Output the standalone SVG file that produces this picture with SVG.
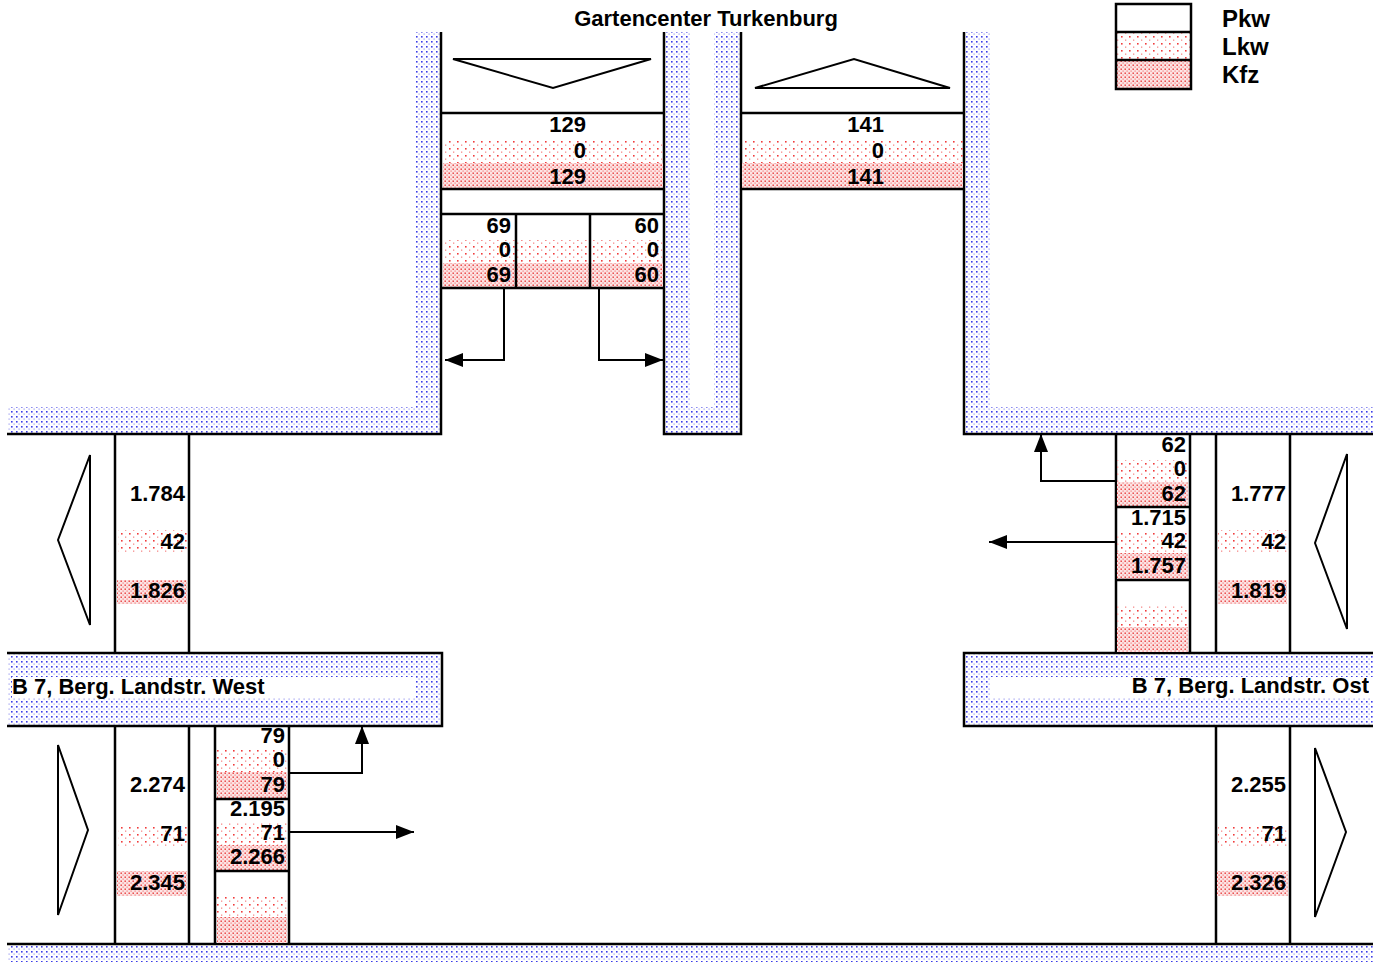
<svg xmlns="http://www.w3.org/2000/svg" width="1386" height="966" viewBox="0 0 1386 966">
<defs>
<pattern id="blue" width="5" height="5" patternUnits="userSpaceOnUse">
<rect x="1" y="1" width="1.6" height="1.6" fill="#3c3ce8"/>
<rect x="3.5" y="3.5" width="1.2" height="1.2" fill="#9a9af0"/>
</pattern>
<pattern id="lkw" width="8" height="7" patternUnits="userSpaceOnUse">
<rect x="1" y="1" width="1.6" height="1.6" fill="#f03c3c"/>
<rect x="5" y="4.5" width="1.3" height="1.3" fill="#f58a8a"/>
</pattern>
<pattern id="kfz" width="4" height="4" patternUnits="userSpaceOnUse">
<rect width="4" height="4" fill="#fce4e4"/>
<rect x="0.5" y="0.5" width="1.4" height="1.4" fill="#e83030"/>
<rect x="2.5" y="2.5" width="1.2" height="1.2" fill="#f07878"/>
</pattern>
<marker id="ah" markerUnits="userSpaceOnUse" markerWidth="19" markerHeight="15" refX="18" refY="7" orient="auto">
<path d="M0,0 L18,7 L0,14 Z" fill="#000"/>
</marker>
<clipPath id="clipW"><rect x="0" y="660" width="267" height="50"/></clipPath>
<clipPath id="clipO"><rect x="990" y="660" width="379" height="50"/></clipPath>
<style>
.ln{stroke:#000;stroke-width:2.5;fill:none}
.tri{fill:#fff;stroke:#000;stroke-width:2}
.t{font-family:"Liberation Sans",Arial,sans-serif;font-weight:bold;font-size:22px;fill:#000}
.r{text-anchor:end}
.c{text-anchor:middle}
.lg{font-size:24px}
.bl{fill:url(#blue)}
.lk{fill:url(#lkw)}
.kf{fill:url(#kfz)}
.con{stroke:#000;stroke-width:2;fill:none;marker-end:url(#ah)}
</style>
</defs>
<rect width="1386" height="966" fill="#fff"/>

<g id="sidewalks">
<path class="bl" d="M415,32 H441 V434 H8 V407 H415 Z"/>
<path class="bl" d="M664,32 H740 V434 H664 Z"/>
<rect x="691" y="32" width="23" height="375" fill="#fff"/>
<path class="bl" d="M964,32 H990 V407 H1373 V434 H964 Z"/>
<rect class="bl" x="8" y="653" width="433" height="73"/>
<rect x="12" y="677" width="403" height="21" fill="#fff"/>
<rect class="bl" x="964" y="653" width="409" height="73"/>
<rect x="990" y="677" width="383" height="21" fill="#fff"/>
<rect class="bl" x="8" y="944" width="1365" height="18"/>
<path class="ln" d="M441,32 V434 H7"/>
<path class="ln" d="M664,32 V434 H741 V32"/>
<path class="ln" d="M964,32 V434 H1373"/>
<path class="ln" d="M7,653 H442 V726 H7"/>
<path class="ln" d="M1373,653 H964 V726 H1373"/>
<path class="ln" d="M7,944 H1373"/>
</g>

<g id="lanes">
<path class="ln" d="M115,434 V653 M189,434 V653"/>
<path class="ln" d="M115,726 V944 M189,726 V944 M215,726 V944 M289,726 V944"/>
<path class="ln" d="M1116,434 V653 M1190,434 V653 M1216,434 V653 M1290,434 V653"/>
<path class="ln" d="M1216,726 V944 M1290,726 V944"/>
</g>

<g id="title"><text class="t c" x="706" y="26">Gartencenter Turkenburg</text></g>

<g id="legend">
<rect class="lk" x="1117" y="32" width="73" height="28"/>
<rect class="kf" x="1117" y="60" width="73" height="28"/>
<rect class="ln" x="1116" y="4" width="75" height="85"/>
<path class="ln" d="M1116,32 H1191 M1116,60 H1191"/>
<text class="t lg" x="1222" y="27">Pkw</text>
<text class="t lg" x="1222" y="55">Lkw</text>
<text class="t lg" x="1222" y="83">Kfz</text>
</g>

<g id="north-out">
<polygon class="tri" points="453,59 651,59 553,88"/>
<rect class="lk" x="443" y="140" width="220" height="23"/>
<rect class="kf" x="443" y="163" width="220" height="26"/>
<path class="ln" d="M441,113 H664 M441,189 H664"/>
<text class="t r" x="586" y="132">129</text>
<text class="t r" x="586" y="158">0</text>
<text class="t r" x="586" y="184">129</text>
</g>

<g id="north-in">
<polygon class="tri" points="755,88 854,59 950,88"/>
<rect class="lk" x="742" y="140" width="221" height="23"/>
<rect class="kf" x="742" y="163" width="221" height="26"/>
<path class="ln" d="M740,113 H964 M740,189 H964"/>
<text class="t r" x="884" y="132">141</text>
<text class="t r" x="884" y="158">0</text>
<text class="t r" x="884" y="184">141</text>
</g>

<g id="north-split">
<rect class="lk" x="443" y="240" width="220" height="23"/>
<rect class="kf" x="443" y="263" width="220" height="25"/>
<path class="ln" d="M441,214 H664 M441,288 H664 M516,214 V288 M590,214 V288"/>
<text class="t r" x="511" y="233">69</text>
<text class="t r" x="511" y="257">0</text>
<text class="t r" x="511" y="282">69</text>
<text class="t r" x="659" y="233">60</text>
<text class="t r" x="659" y="257">0</text>
<text class="t r" x="659" y="282">60</text>
</g>

<g id="west-out">
<polygon class="tri" points="90,455 58,540 90,625"/>
<rect class="lk" x="118" y="530" width="69" height="22"/>
<rect class="kf" x="117" y="580" width="70" height="24"/>
<text class="t r" x="185" y="501">1.784</text>
<text class="t r" x="185" y="549">42</text>
<text class="t r" x="185" y="598">1.826</text>
</g>

<g id="west-label"><text class="t" x="12" y="694" clip-path="url(#clipW)">B 7, Berg. Landstr. West</text></g>

<g id="west-in">
<polygon class="tri" points="58,745 88,830 58,915"/>
<rect class="lk" x="118" y="825" width="69" height="22"/>
<rect class="kf" x="117" y="871" width="70" height="25"/>
<text class="t r" x="185" y="792">2.274</text>
<text class="t r" x="185" y="841">71</text>
<text class="t r" x="185" y="890">2.345</text>
</g>

<g id="west-split">
<rect class="lk" x="217" y="750" width="70" height="22"/>
<rect class="kf" x="217" y="772" width="70" height="26"/>
<rect class="lk" x="217" y="823" width="70" height="22"/>
<rect class="kf" x="217" y="845" width="70" height="25"/>
<rect class="lk" x="217" y="895" width="70" height="22"/>
<rect class="kf" x="217" y="917" width="70" height="26"/>
<path class="ln" d="M215,799 H289 M215,871 H289"/>
<text class="t r" x="285" y="743">79</text>
<text class="t r" x="285" y="767">0</text>
<text class="t r" x="285" y="792">79</text>
<text class="t r" x="285" y="816">2.195</text>
<text class="t r" x="285" y="840">71</text>
<text class="t r" x="285" y="864">2.266</text>
</g>

<g id="east-split">
<rect class="lk" x="1117" y="460" width="71" height="22"/>
<rect class="kf" x="1117" y="482" width="71" height="24"/>
<rect class="lk" x="1117" y="532" width="71" height="21"/>
<rect class="kf" x="1117" y="553" width="71" height="26"/>
<rect class="lk" x="1117" y="605" width="71" height="22"/>
<rect class="kf" x="1117" y="627" width="71" height="25"/>
<path class="ln" d="M1116,507 H1191 M1116,580 H1191"/>
<text class="t r" x="1186" y="452">62</text>
<text class="t r" x="1186" y="476">0</text>
<text class="t r" x="1186" y="501">62</text>
<text class="t r" x="1186" y="525">1.715</text>
<text class="t r" x="1186" y="548">42</text>
<text class="t r" x="1186" y="573">1.757</text>
</g>

<g id="east-in">
<polygon class="tri" points="1347,454 1315,543 1347,629"/>
<rect class="lk" x="1218" y="530" width="69" height="22"/>
<rect class="kf" x="1218" y="580" width="69" height="24"/>
<text class="t r" x="1286" y="501">1.777</text>
<text class="t r" x="1286" y="549">42</text>
<text class="t r" x="1286" y="598">1.819</text>
</g>

<g id="east-label"><text class="t r" x="1369" y="693" clip-path="url(#clipO)">B 7, Berg. Landstr. Ost</text></g>

<g id="east-out">
<polygon class="tri" points="1315,748 1346,832 1315,917"/>
<rect class="lk" x="1218" y="826" width="69" height="21"/>
<rect class="kf" x="1217" y="871" width="71" height="25"/>
<text class="t r" x="1286" y="792">2.255</text>
<text class="t r" x="1286" y="841">71</text>
<text class="t r" x="1286" y="890">2.326</text>
</g>

<g id="connectors">
<path class="con" d="M504,288 V360 H445"/>
<path class="con" d="M599,288 V360 H663"/>
<path class="con" d="M1116,481 H1041 V434"/>
<path class="con" d="M1116,542 H989"/>
<path class="con" d="M288,773 H362 V726"/>
<path class="con" d="M288,832 H414"/>
</g>
</svg>
